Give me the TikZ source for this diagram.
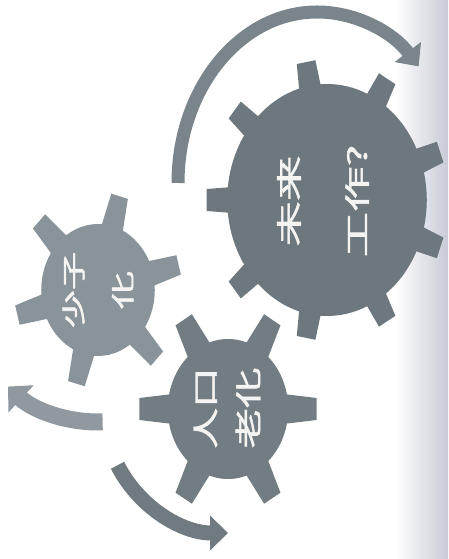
\documentclass[tikz,border=0pt]{standalone}
\RequirePackage{fontspec}
\RequirePackage{tikz}
\usetikzlibrary{arrows.meta}
\usetikzlibrary{calc}

\newfontfamily\jpfont[FakeBold=1.6]{Noto Sans CJK JP}

\definecolor{gearbig}{HTML}{6D787E}
\definecolor{gearsmall}{HTML}{89939A}
\definecolor{gearlow}{HTML}{727D83}
\definecolor{bandbig}{HTML}{7A858B}
\definecolor{bandleft}{HTML}{8F999F}
\definecolor{bandlow}{HTML}{707B81}
\definecolor{scanedge}{HTML}{C8CBD7}
\definecolor{labeltext}{HTML}{F4F4F2}

\newcommand{\gearwheel}[8]{%
    \begin{scope}[shift={(#1)},xscale=0.86,fill=#8]
        \fill (0,0) circle (#2);
        \foreach \k in {1,...,#4}
            \fill[rotate={#5+\k*360/#4}] (#2-6,-#6) -- (#3,-#7) -- (#3,#7) -- (#2-6,#6) -- cycle;
    \end{scope}}

\tikzset{
    gearlabel/.style={text=labeltext,align=center,rotate=90,inner sep=0pt},
    band/.style={line cap=butt,-{Triangle[width=#1,length=18pt]}},
}

\begin{document}
\begin{tikzpicture}[x=1pt,y=1pt]
                \useasboundingbox (0,0) rectangle (448,559);
                \shade[left color=white,right color=scanedge] (395,0) rectangle (448,559);

                \coordinate (future) at (327,359);
                \coordinate (fewkids) at (98,269);
                \coordinate (ageing) at (228,150);
                \coordinate (arcstart) at (178,376);

                \draw[band=32pt,bandbig,line width=13pt] (arcstart) arc[start angle=180,end angle=43,x radius=139,y radius=171];
                \draw[band=36pt,bandleft,line width=17pt] (fewkids) ++(-88:132) arc[start angle=-88,end angle=-133,radius=132];
                \draw[band=34pt,bandlow,line width=15pt] (ageing) ++(207:124) arc[start angle=207,end angle=270,radius=124];

                \gearwheel{future}{116}{140}{9}{-20}{13}{11}{gearbig}
                \gearwheel{fewkids}{66}{97}{6}{-45}{13}{10}{gearsmall}
                \gearwheel{ageing}{70}{103}{6}{0}{15}{11}{gearlow}

                \node[gearlabel,xscale=1.75,font=\jpfont\fontsize{26}{68}\selectfont] (futurelabel) at (323,358) {未来\\工作?};
                \node[gearlabel,xscale=1.6,font=\jpfont\fontsize{24}{49}\selectfont] (fewkidslabel) at (98,269) {少子\\化};
                \node[gearlabel,xscale=1.5,font=\jpfont\fontsize{27}{43}\selectfont] (ageinglabel) at (227,151) {人口\\老化};
            \end{tikzpicture}
\end{document}
